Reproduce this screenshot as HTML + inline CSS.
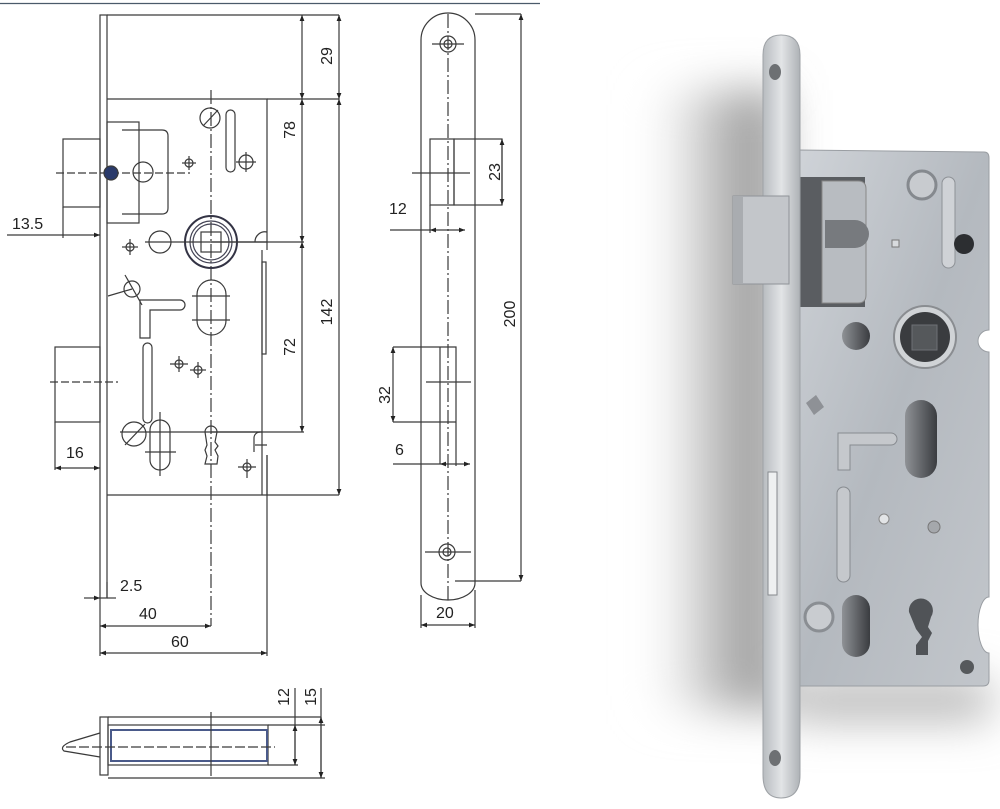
<!DOCTYPE html>
<html><head><meta charset="utf-8"><style>
html,body{margin:0;padding:0;background:#fff;width:1000px;height:809px;overflow:hidden}
svg{display:block}
text{font-family:"Liberation Sans",Arial,sans-serif;font-size:16px;fill:#222}
</style></head><body>
<svg width="1000" height="809" viewBox="0 0 1000 809" xmlns="http://www.w3.org/2000/svg">
<defs>
<marker id="a" viewBox="0 0 10 10" refX="10" refY="5" markerWidth="7" markerHeight="5" orient="auto-start-reverse"><path d="M0,1 L10,5 L0,9z" fill="#222"/></marker>
<linearGradient id="shg" x1="0" y1="0" x2="1" y2="0"><stop offset="0" stop-color="#fff" stop-opacity="0"/><stop offset="0.5" stop-color="#c4c4c4"/><stop offset="1" stop-color="#8c8c8c"/></linearGradient>
<linearGradient id="body" x1="0" y1="0" x2="1" y2="1"><stop offset="0" stop-color="#cfd3d8"/><stop offset="0.5" stop-color="#b4b9bf"/><stop offset="1" stop-color="#c2c6cb"/></linearGradient>
<linearGradient id="fp" x1="0" y1="0" x2="1" y2="0"><stop offset="0" stop-color="#b8bcc0"/><stop offset="0.5" stop-color="#e2e4e6"/><stop offset="1" stop-color="#aeb2b6"/></linearGradient>
<linearGradient id="hole" x1="0" y1="0" x2="1" y2="0"><stop offset="0" stop-color="#8f9296"/><stop offset="1" stop-color="#3a3c40"/></linearGradient>
<filter id="blur" x="-50%" y="-50%" width="200%" height="200%"><feGaussianBlur stdDeviation="22"/></filter>
</defs>

<line x1="0" y1="3.5" x2="540" y2="3.5" stroke="#4a5a6a" stroke-width="1.2"/>

<g fill="none" stroke="#3a3a3a" stroke-width="1.2">
<rect x="100" y="15" width="7" height="583"/>
<path d="M107 99 H267 V250 M262 250 V495 M107 495 H267 V455"/>
<line x1="107" y1="15" x2="339" y2="15"/>
<line x1="267" y1="99" x2="339" y2="99"/>
<line x1="267" y1="495" x2="339" y2="495"/>
<line x1="211" y1="242" x2="304" y2="242"/>
<line x1="211" y1="432" x2="304" y2="432"/>
<line x1="302" y1="15" x2="302" y2="99" marker-start="url(#a)" marker-end="url(#a)"/>
<line x1="302" y1="99" x2="302" y2="242" marker-start="url(#a)" marker-end="url(#a)"/>
<line x1="302" y1="242" x2="302" y2="432" marker-start="url(#a)" marker-end="url(#a)"/>
<line x1="339" y1="15" x2="339" y2="99" marker-start="url(#a)" marker-end="url(#a)"/>
<line x1="339" y1="99" x2="339" y2="495" marker-start="url(#a)" marker-end="url(#a)"/>
<rect x="63" y="139" width="37" height="68"/>
<rect x="107" y="122" width="32" height="101"/>
<path d="M122 130 H162 Q168 130 168 136 V208 Q168 214 162 214 H122"/>
<line x1="56" y1="173" x2="190" y2="173" stroke-dasharray="8 3"/>
<circle cx="111" cy="173" r="7" fill="#2a3a6a"/>
<circle cx="143" cy="172" r="10"/>
<line x1="211" y1="90" x2="211" y2="626" stroke-dasharray="14 3 2 3"/>
<circle cx="211" cy="242" r="26" stroke="#334" stroke-width="2"/>
<circle cx="211" cy="242" r="21" stroke="#445"/>
<circle cx="211" cy="242" r="18" stroke="#445"/>
<rect x="201" y="232" width="20" height="20"/>
<line x1="145" y1="242" x2="267" y2="242"/>
<circle cx="160" cy="242" r="11"/>
<path d="M255 242 a10 10 0 0 1 12 -10"/>
<circle cx="210" cy="118" r="10"/><line x1="203" y1="126" x2="218" y2="110"/>
<rect x="226" y="110" width="9" height="62" rx="4.5"/>
<circle cx="246" cy="162" r="7"/><line x1="236" y1="162" x2="256" y2="162"/><line x1="246" y1="152" x2="246" y2="172"/>
<circle cx="189" cy="163" r="4"/><line x1="182" y1="163" x2="196" y2="163"/><line x1="189" y1="156" x2="189" y2="170"/>
<circle cx="130" cy="247" r="4"/><line x1="122" y1="247" x2="138" y2="247"/><line x1="130" y1="239" x2="130" y2="255"/>
<circle cx="132" cy="289" r="8"/><line x1="125" y1="275" x2="142" y2="305"/><line x1="108" y1="296" x2="132" y2="289"/>
<path d="M140 300 H180 a5 5 0 0 1 0 10 H150 V338 H140z"/>
<rect x="197" y="280" width="29" height="55" rx="14.5"/>
<line x1="192" y1="296" x2="230" y2="296"/><line x1="192" y1="320" x2="230" y2="320"/>
<rect x="143" y="343" width="9" height="80" rx="4.5"/>
<circle cx="179" cy="364" r="4"/><line x1="170" y1="364" x2="188" y2="364"/><line x1="179" y1="356" x2="179" y2="372"/>
<circle cx="198" cy="370" r="4"/><line x1="190" y1="370" x2="206" y2="370"/><line x1="198" y1="362" x2="198" y2="378"/>
<rect x="262" y="262" width="4" height="92"/>
<line x1="120" y1="432" x2="262" y2="432"/>
<circle cx="134" cy="434" r="12"/><line x1="125" y1="445" x2="145" y2="424"/>
<rect x="150" y="420" width="20" height="50" rx="10"/>
<line x1="145" y1="452" x2="176" y2="452"/><line x1="160" y1="412" x2="160" y2="476"/>
<path d="M205 432 a6 6 0 1 1 12 0 l-2 10 l3 4 l-3 4 l3 6 l-1 8 h-12 l2 -8 l-2 -6 l2 -5z"/>
<path d="M260 432 a6 6 0 0 0 -6 6 v14 M255 445 h12"/>
<circle cx="247" cy="467" r="4"/><line x1="238" y1="467" x2="256" y2="467"/><line x1="247" y1="459" x2="247" y2="478"/>
<rect x="55" y="347" width="45" height="75"/>
<line x1="50" y1="382" x2="118" y2="382" stroke-dasharray="8 3"/>
<line x1="7" y1="235" x2="100" y2="235" marker-end="url(#a)"/>
<line x1="63" y1="207" x2="63" y2="238"/>
<line x1="55" y1="422" x2="55" y2="470"/>
<line x1="55" y1="468" x2="100" y2="468" marker-start="url(#a)" marker-end="url(#a)"/>
<line x1="84" y1="598" x2="100" y2="598" marker-end="url(#a)"/>
<line x1="107" y1="598" x2="116" y2="598"/>
<line x1="100" y1="598" x2="100" y2="656"/>
<line x1="107" y1="582" x2="107" y2="598"/>
<line x1="100" y1="626" x2="211" y2="626" marker-start="url(#a)" marker-end="url(#a)"/>
<line x1="267" y1="455" x2="267" y2="656"/>
<line x1="100" y1="653" x2="267" y2="653" marker-start="url(#a)" marker-end="url(#a)"/>

<path d="M421 583 V40 a27 27 0 0 1 54 0 V583 a27 17 0 0 1 -54 0z"/>
<line x1="448" y1="14" x2="448" y2="600" stroke-dasharray="14 3 2 3"/>
<circle cx="448" cy="44" r="8"/><circle cx="448" cy="44" r="4"/><line x1="432" y1="44" x2="464" y2="44"/>
<circle cx="447" cy="552" r="8"/><circle cx="447" cy="552" r="4"/><line x1="425" y1="552" x2="471" y2="552"/>
<line x1="475" y1="14" x2="521" y2="14"/><line x1="455" y1="581" x2="521" y2="581"/>
<line x1="521" y1="14" x2="521" y2="581" marker-start="url(#a)" marker-end="url(#a)"/>
<rect x="454" y="139" width="48" height="66"/>
<rect x="430" y="139" width="24" height="66"/>
<line x1="412" y1="173" x2="470" y2="173"/>
<line x1="502" y1="139" x2="502" y2="205" marker-start="url(#a)" marker-end="url(#a)"/>
<line x1="390" y1="230" x2="430" y2="230"/><line x1="430" y1="205" x2="430" y2="233"/>
<line x1="430" y1="230" x2="465" y2="230" marker-start="url(#a)" marker-end="url(#a)"/>
<path d="M393 347 H456 V422 M393 422 H456"/>
<line x1="440" y1="347" x2="440" y2="464"/><line x1="456" y1="422" x2="456" y2="466"/>
<line x1="426" y1="382" x2="471" y2="382"/>
<line x1="393" y1="347" x2="393" y2="422" marker-start="url(#a)" marker-end="url(#a)"/>
<line x1="393" y1="464" x2="440" y2="464"/>
<line x1="440" y1="464" x2="470" y2="464" marker-start="url(#a)" marker-end="url(#a)"/>
<line x1="421" y1="595" x2="421" y2="628"/><line x1="475" y1="590" x2="475" y2="628"/>
<line x1="421" y1="625" x2="475" y2="625" marker-start="url(#a)" marker-end="url(#a)"/>

<rect x="100" y="717" width="8" height="58"/>
<rect x="108" y="725" width="160" height="40"/>
<rect x="111" y="730" width="156" height="31" stroke="#4a5a8a" stroke-width="2"/>
<path d="M100 733 L70 742 Q59 747 64 751 L100 757"/>
<line x1="66" y1="747" x2="275" y2="747" stroke-dasharray="10 3"/>
<line x1="211" y1="712" x2="211" y2="776"/>
<line x1="268" y1="725" x2="325" y2="725"/><line x1="268" y1="765" x2="298" y2="765"/>
<line x1="108" y1="778" x2="325" y2="778"/>
<line x1="295" y1="688" x2="295" y2="765"/><line x1="295" y1="725" x2="295" y2="765" marker-start="url(#a)" marker-end="url(#a)"/>
<line x1="321" y1="688" x2="321" y2="778"/><line x1="321" y1="717" x2="321" y2="778" marker-start="url(#a)" marker-end="url(#a)"/>
<line x1="108" y1="717" x2="321" y2="717"/>
</g>

<text x="12" y="229">13.5</text>
<text x="66" y="458">16</text>
<text x="120" y="591">2.5</text>
<text x="139" y="619">40</text>
<text x="171" y="647">60</text>
<text transform="translate(332,56) rotate(-90)" text-anchor="middle">29</text>
<text transform="translate(295,130) rotate(-90)" text-anchor="middle">78</text>
<text transform="translate(332,312) rotate(-90)" text-anchor="middle">142</text>
<text transform="translate(295,347) rotate(-90)" text-anchor="middle">72</text>
<text transform="translate(515,314) rotate(-90)" text-anchor="middle">200</text>
<text transform="translate(500,172) rotate(-90)" text-anchor="middle">23</text>
<text transform="translate(390,395) rotate(-90)" text-anchor="middle">32</text>
<text x="389" y="214">12</text>
<text x="395" y="455">6</text>
<text x="436" y="618">20</text>
<text transform="translate(289,697) rotate(-90)" text-anchor="middle">12</text>
<text transform="translate(316,697) rotate(-90)" text-anchor="middle">15</text>

<!-- photo shadow -->
<g filter="url(#blur)">
<rect x="640" y="90" width="140" height="620" fill="url(#shg)"/>
<rect x="790" y="680" width="200" height="40" fill="#b5b5b5"/>
</g>
<path d="M798 150 L984 152 Q989 152 989 158 V330 a9 9 0 0 0 0 22 V597 a11 28 0 0 0 0 56 V680 Q989 686 983 686 H798z" fill="url(#body)" stroke="#9a9ea3"/>
<rect x="800" y="177" width="65" height="130" fill="#5a5d61"/>
<path d="M822 181 H858 Q866 181 866 189 V295 Q866 303 858 303 H822z" fill="#b8bcc1" stroke="#888"/>
<path d="M825 220 H855 a14 14 0 0 1 0 28 H825z" fill="#777a7e"/>
<circle cx="922" cy="185" r="14" fill="#c8cbcf" stroke="#85898e" stroke-width="3"/>
<rect x="942" y="177" width="13" height="91" rx="6.5" fill="#cfd2d6" stroke="#8e9297"/>
<circle cx="964" cy="244" r="10" fill="#2c2e31"/>
<rect x="892" y="240" width="7" height="7" fill="#d8dbde" stroke="#777"/>
<circle cx="856" cy="336" r="14" fill="url(#hole)"/>
<circle cx="925" cy="337" r="31" fill="#d0d3d6" stroke="#8a8d91" stroke-width="2"/>
<circle cx="925" cy="337" r="25" fill="#3a3c3f"/>
<rect x="912" y="325" width="25" height="25" fill="#55585b" stroke="#6d7074"/>
<path d="M806 403 l10 -8 l8 12 l-10 8z" fill="#8e9196"/>
<rect x="905" y="400" width="32" height="78" rx="16" fill="url(#hole)"/>
<path d="M838 433 H891 a6 6 0 0 1 0 12 H850 V470 H838z" fill="#c5c8cc" stroke="#878b90"/>
<rect x="837" y="487" width="13" height="95" rx="6.5" fill="#c5c8cc" stroke="#878b90"/>
<circle cx="884" cy="519" r="5" fill="#e2e4e6" stroke="#888"/>
<circle cx="934" cy="527" r="6" fill="#a5a8ac" stroke="#777"/>
<circle cx="819" cy="617" r="14" fill="#c9ccd0" stroke="#8a8e93" stroke-width="3"/>
<rect x="842" y="595" width="28" height="62" rx="14" fill="url(#hole)"/>
<path d="M909 612 a12 12 0 1 1 22 5 l-3 10 l4 6 l-4 8 v14 h-12 v-10 l6 -8 l-6 -8z" fill="#505357"/>
<circle cx="967" cy="667" r="7" fill="#56595c"/>
<path d="M763 55 Q763 35 781 35 Q800 35 800 55 V775 Q800 798 781 798 Q763 798 763 775z" fill="url(#fp)" stroke="#9ea2a6"/>
<ellipse cx="775" cy="72" rx="6" ry="8" fill="#6d7073"/>
<ellipse cx="775" cy="758" rx="6" ry="8" fill="#6d7073"/>
<rect x="768" y="472" width="9" height="123" fill="#eef0f1" stroke="#85898d"/>
<rect x="733" y="196" width="56" height="88" fill="#c3c6ca" stroke="#8f9398"/>
<rect x="733" y="196" width="10" height="88" fill="#a9acb0"/>
</svg>
</body></html>
